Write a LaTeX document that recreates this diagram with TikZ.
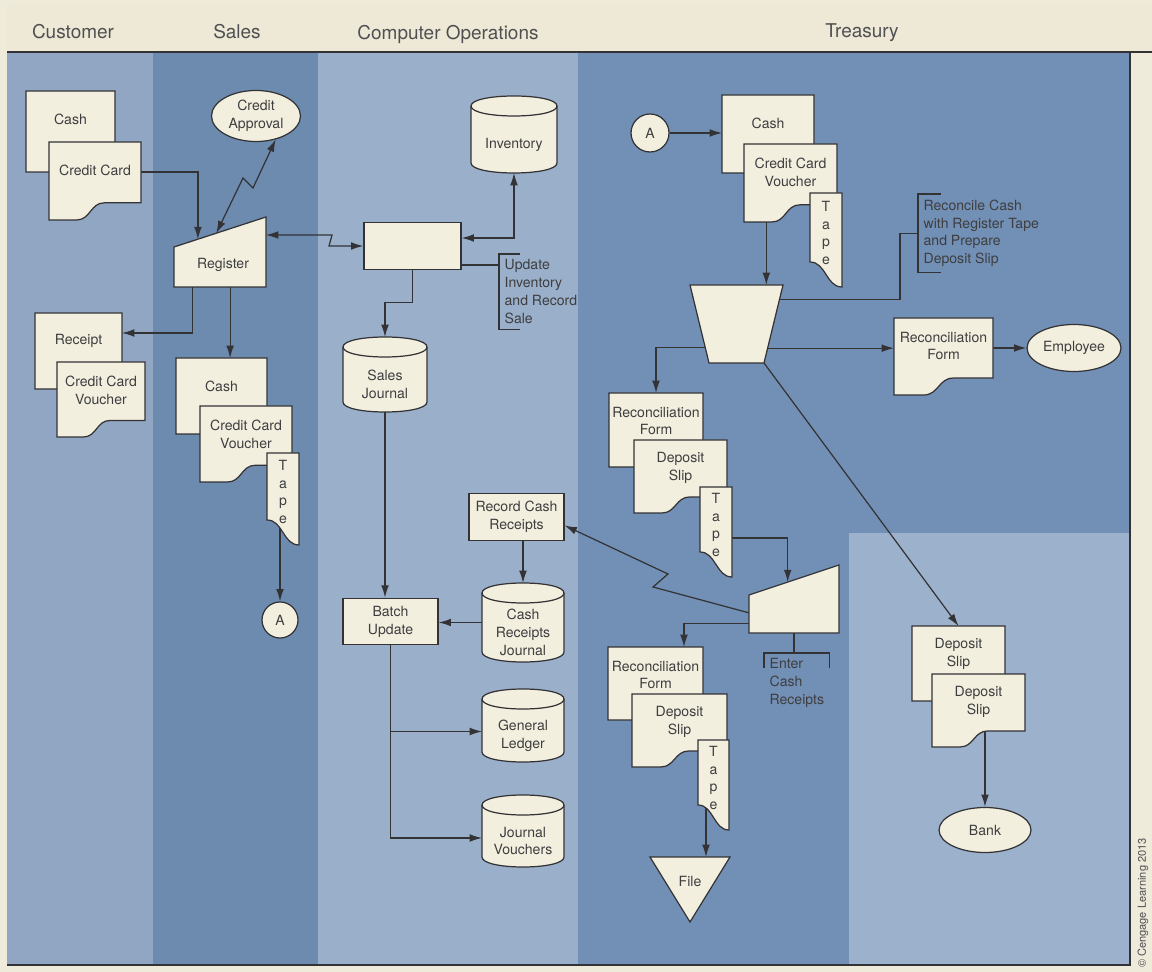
\documentclass[tikz,border=0pt]{standalone}
\usepackage{fontspec}
\setmainfont{TeX Gyre Heros}
\usetikzlibrary{arrows.meta,calc,shapes.geometric,positioning}

\definecolor{page}{HTML}{EEEBDB}
\definecolor{headband}{HTML}{EDE9D6}
\definecolor{custlane}{HTML}{91A6C2}
\definecolor{saleslane}{HTML}{6D8AAF}
\definecolor{opslane}{HTML}{9AAFCA}
\definecolor{treaslane}{HTML}{7290B5}
\definecolor{treaslite}{HTML}{9CB1CC}
\definecolor{paper}{HTML}{F3EFDF}
\definecolor{inkc}{HTML}{333336}
\definecolor{textc}{HTML}{3E3E40}
\definecolor{headc}{HTML}{505052}

\pgfdeclarelayer{lanes}
\pgfdeclarelayer{wires}
\pgfsetlayers{lanes,wires,main}

\tikzset{
  ink/.style={draw=inkc, line width=0.7pt},
  sheet/.style={ink, fill=paper},
  hold/.style={rectangle, inner sep=0pt, outer sep=0pt},
  txt/.style={font=\fontsize{8}{10.2}\selectfont, text=textc, align=center, inner sep=0pt},
  flow/.style={draw=inkc, line width=0.7pt, -{Latex[length=7pt,width=4.4pt]}},
  flow2/.style={flow, {Latex[length=7pt,width=4.4pt]}-{Latex[length=7pt,width=4.4pt]}},
  note/.style={draw=inkc, line width=0.7pt},
  notetxt/.style={txt, align=left, anchor=north west, inner xsep=3pt, inner ysep=3pt},
  pbox/.style={rectangle, sheet, txt, minimum width=1.9cm, minimum height=0.93cm},
  term/.style={ellipse, sheet, txt},
  conn/.style={circle, sheet, txt, minimum size=0.72cm},
  lanehead/.style={font=\fontsize{10.8}{12}\selectfont, text=headc},
}

% document with wavy bottom: name, x, y, w, h, text
\newcommand{\docnode}[6]{%
  \draw[sheet] (#2,#3) -- ({#2+#4},#3) -- ({#2+#4},{#3+0.78*#5})
    -- ({#2+0.6*#4},{#3+0.78*#5})
    .. controls ({#2+0.45*#4},{#3+0.78*#5}) and ({#2+0.45*#4},{#3+#5}) .. ({#2+0.3*#4},{#3+#5})
    -- (#2,{#3+#5}) -- cycle;
  \node[hold, minimum width=#4*0.02cm, minimum height=#5*0.02cm] (#1) at ({#2+#4/2},{#3+#5/2}) {};
  \node[txt] (#1-t) at ({#2+#4/2},{#3+28}) {#6};
}
% register tape: name, x, y, w, h
\newcommand{\tapenode}[5]{%
  \draw[sheet] (#2,#3) -- ({#2+#4},#3) -- ({#2+#4},{#3+#5})
    .. controls ({#2+0.5*#4},{#3+#5}) and ({#2+0.5*#4},{#3+#5-25}) .. (#2,{#3+#5-25}) -- cycle;
  \node[hold, minimum width=#4*0.02cm, minimum height=#5*0.02cm] (#1) at ({#2+#4/2},{#3+#5/2}) {};
  \node[txt] (#1-t) at ({#2+#4/2},{#3+#5/2-7}) {T\\a\\p\\e};
}
% manual input: name, x, y, w, h, slant, text
\newcommand{\keynode}[7]{%
  \draw[sheet] (#2,{#3+#6}) -- ({#2+#4},#3) -- ({#2+#4},{#3+#5}) -- (#2,{#3+#5}) -- cycle;
  \coordinate (#1-tl) at (#2,{#3+#6});
  \coordinate (#1-tr) at ({#2+#4},#3);
  \node[hold, minimum width=#4*0.02cm, minimum height=#5*0.02cm] (#1) at ({#2+#4/2},{#3+#5/2}) {};
  \node[txt] (#1-t) at ({#2+#4/2+3},{#3+#5/2+13}) {#7};
}
% manual operation: name, x, y, w, h, inset
\newcommand{\handnode}[6]{%
  \draw[sheet] (#2,#3) -- ({#2+#4},#3) -- ({#2+#4-#6},{#3+#5}) -- ({#2+#6},{#3+#5}) -- cycle;
  \coordinate (#1-tl) at (#2,#3);
  \coordinate (#1-tr) at ({#2+#4},#3);
  \coordinate (#1-br) at ({#2+#4-#6},{#3+#5});
  \coordinate (#1-bl) at ({#2+#6},{#3+#5});
  \node[hold, minimum width=#4*0.02cm, minimum height=#5*0.02cm] (#1) at ({#2+#4/2},{#3+#5/2}) {};
}
% disk storage: name, x, y, w, h, text
\newcommand{\cylnode}[6]{%
  \draw[sheet] (#2,{#3+10}) -- (#2,{#3+#5-10})
    .. controls (#2,{#3+#5+10/3}) and ({#2+#4},{#3+#5+10/3}) .. ({#2+#4},{#3+#5-10})
    -- ({#2+#4},{#3+10})
    .. controls ({#2+#4},{#3+10-40/3}) and (#2,{#3+10-40/3}) .. cycle;
  \draw[ink] (#2,{#3+10}) .. controls (#2,{#3+10+40/3}) and ({#2+#4},{#3+10+40/3}) .. ({#2+#4},{#3+10});
  \node[hold, minimum width=#4*0.02cm, minimum height=#5*0.02cm] (#1) at ({#2+#4/2},{#3+#5/2}) {};
  \node[txt] (#1-t) at ({#2+#4/2},{#3+#5/2+10}) {#6};
}
% offline file: name, x, y, w, h, text
\newcommand{\filenode}[6]{%
  \draw[sheet] (#2,#3) -- ({#2+#4},#3) -- ({#2+#4/2},{#3+#5}) -- cycle;
  \node[hold, minimum width=#4*0.02cm, minimum height=#5*0.02cm] (#1) at ({#2+#4/2},{#3+#5/2}) {};
  \node[txt] (#1-t) at ({#2+#4/2},{#3+24}) {#6};
}

\begin{document}
\begin{tikzpicture}[x=0.02cm,y=-0.02cm]
  \useasboundingbox (0,0) rectangle (1152,972);

  \begin{pgfonlayer}{lanes}
    \fill[page] (0,0) rectangle (1152,972);
    \fill[headband] (7,3) rectangle (1152,52);
    \fill[custlane] (7,52) rectangle (153,965);
    \fill[saleslane] (153,52) rectangle (318,965);
    \fill[opslane] (318,52) rectangle (578,965);
    \fill[treaslane] (578,52) rectangle (1130,965);
    \fill[treaslite] (849,533) rectangle (1130,965);
    \draw[inkc, line width=1.1pt] (7,52) -- (1152,52);
    \draw[inkc, line width=0.9pt] (7,965) -- (1130,965) -- (1130,52);
  \end{pgfonlayer}

  \node[lanehead] (hcust) at (73,32) {Customer};
  \node[lanehead] (hsales) at (237,32) {Sales};
  \node[lanehead] (hops) at (448,34) {Computer Operations};
  \node[lanehead] (htreas) at (862,33) {Treasury};

  % customer
  \docnode{cash1}{26}{91}{89}{81}{Cash}
  \docnode{ccard}{49}{142}{92}{78}{Credit Card}
  \docnode{receipt}{35}{313}{87}{76}{Receipt}
  \docnode{ccv1}{57}{362}{88}{75}{Credit Card\\Voucher}

  % sales
  \node[term, minimum width=1.78cm, minimum height=1.02cm] (approval) at (256,116) {Credit\\Approval};
  \keynode{reg}{174}{217}{92}{70}{30}{Register}
  \docnode{cash2}{176}{358}{91}{76}{Cash}
  \docnode{ccv2}{200}{406}{92}{76}{Credit Card\\Voucher}
  \tapenode{tape1}{267}{453}{32}{92}
  \node[conn] (conA1) at (280,620) {A};

  % computer operations
  \cylnode{inv}{471}{96}{86}{77}{Inventory}
  \node[pbox, minimum width=1.94cm] (proc) at (412.5,246) {};
  \node[notetxt] (upd) at (499,254) {Update\\Inventory\\and Record\\Sale};
  \cylnode{sj}{343}{337}{84}{75}{Sales\\Journal}
  \node[pbox] (rcr) at (516.5,517) {Record Cash\\Receipts};
  \node[pbox] (batch) at (390.5,621.5) {Batch\\Update};
  \cylnode{crj}{482}{583}{82}{79}{Cash\\Receipts\\Journal}
  \cylnode{gl}{482}{689}{82}{73}{General\\Ledger}
  \cylnode{jv}{482}{795}{82}{72}{Journal\\Vouchers}

  % treasury
  \node[conn, minimum size=0.76cm] (conA2) at (650,133) {A};
  \docnode{cash3}{722}{95}{92}{78}{Cash}
  \docnode{ccv3}{744}{144}{93}{78}{Credit Card\\Voucher}
  \tapenode{tape2}{810}{193}{32}{94}
  \node[notetxt] (rec) at (918,194) {Reconcile Cash\\with Register Tape\\and Prepare\\Deposit Slip};
  \handnode{manop}{690}{285}{93}{78}{19}
  \docnode{rf1}{894}{318}{99}{77}{Reconciliation\\Form}
  \node[term, minimum width=1.88cm, minimum height=0.94cm] (emp) at (1074,348) {Employee};
  \docnode{rf2}{609}{393}{94}{74}{Reconciliation\\Form}
  \docnode{ds1}{634}{440}{93}{73}{Deposit\\Slip}
  \tapenode{tape3}{700}{487}{32}{90}
  \keynode{mi2}{749}{565}{90}{68}{30}{}
  \node[notetxt] (ent) at (764,653) {Enter\\Cash\\Receipts};
  \docnode{rf3}{608}{647}{95}{73}{Reconciliation\\Form}
  \docnode{ds2}{632}{694}{95}{73}{Deposit\\Slip}
  \tapenode{tape4}{698}{740}{31}{90}
  \filenode{file}{650}{857}{80}{65}{File}
  \docnode{ds3}{912}{626}{93}{75}{Deposit\\Slip}
  \docnode{ds4}{932}{674}{93}{73}{Deposit\\Slip}
  \node[term, minimum width=1.84cm, minimum height=0.9cm] (bank) at (985,830) {Bank};

  \node[rotate=90, font=\fontsize{6.3}{7}\selectfont, text=headc] (copy) at (1143,903)
    {\textcopyright\ Cengage Learning 2013};

  \begin{pgfonlayer}{wires}
    \draw[flow] ($(ccard.east)+(0,-9)$) -| ($(reg-tl)!0.26!(reg-tr)$);
    \draw[flow2] ($(reg-tl)!0.46!(reg-tr)$) -- (243,178) -- (253,188) -- (approval.-50);
    \draw[flow2] ($(reg-tr)+(0,18)$) -- (332,235) -- (329,246) -- (proc.west);
    \draw[flow2] (inv.south) |- ($(proc.east)+(0,-8)$);
    \coordinate (u1) at ($(proc.east)+(0,19)$);
    \draw[note] (u1) -- (u1 -| upd.west);
    \draw[note] ($(upd.north west)+(21,0)$) -- (upd.north west) -- (upd.south west) -- ++(21,0);
    \draw[flow] ($(reg.south west)!0.2!(reg.south east)$) |- ($(receipt.east)+(0,-18)$);
    \coordinate (r2) at ($(reg.south west)!0.61!(reg.south east)$);
    \draw[flow] (r2) -- (r2 |- cash2.north);
    \draw[flow] (tape1.center -| conA1.north) -- (conA1.north);

    \draw[flow] (proc.south) -- ++(0,33) -| (sj.north);
    \draw[flow] (sj.south) -- (sj.south |- batch.north);
    \draw[flow] (rcr.south -| crj.north) -- (crj.north);
    \draw[flow] (crj.west) -- (crj.west -| batch.east);
    \coordinate (g1) at ($(gl.west)+(0,6)$);
    \coordinate (j1) at ($(jv.west)+(0,7)$);
    \draw[flow] (batch.south) |- (j1);
    \draw[flow] (batch.south |- g1) -- (g1);

    \draw[flow] (conA2.east) -- (conA2.east -| cash3.west);
    \coordinate (c3) at ($(ccv3.south west)!0.24!(ccv3.south east)$);
    \draw[flow] (c3) -- (c3 |- manop.north);
    \draw[note] ($(rec.north west)+(23,0)$) -- (rec.north west) -- (rec.south west) -- ++(23,0);
    \draw[note] (rec.west) -- ++(-18,0) |- ($(manop-tr)!0.19!(manop-br)$);
    \draw[flow] ($(manop-tl)!0.8!(manop-bl)$) -| (rf2.north);
    \coordinate (m1) at ($(manop-tr)!0.81!(manop-br)$);
    \draw[flow] (m1) -- (m1 -| rf1.west);
    \draw[flow] (rf1.east |- emp.west) -- (emp.west);
    \draw[flow] (manop-br) -- (ds3.north);
    \draw[flow] ($(tape3.east)+(0,6)$) -| ($(mi2-tl)!0.43!(mi2-tr)$);
    \draw[flow] ($(mi2-tl)!0.47!(mi2.south west)$) -- (653,587) -- (668,574) -- (rcr.-10);
    \draw[flow] ($(mi2-tl)!0.74!(mi2.south west)$) -| ($(rf3.north west)!0.8!(rf3.north east)$);
    \draw[note] (mi2.south) -- (mi2.south |- ent.north);
    \draw[note] ($(ent.north west)+(0,15)$) -- (ent.north west) -- (ent.north east) -- ++(0,15);
    \coordinate (f1) at ($(file.north west)!0.7!(file.north east)$);
    \draw[flow] (f1 |- tape4.center) -- (f1);
    \draw[flow] (ds4.center -| bank.north) -- (bank.north);
  \end{pgfonlayer}
\end{tikzpicture}
\end{document}
